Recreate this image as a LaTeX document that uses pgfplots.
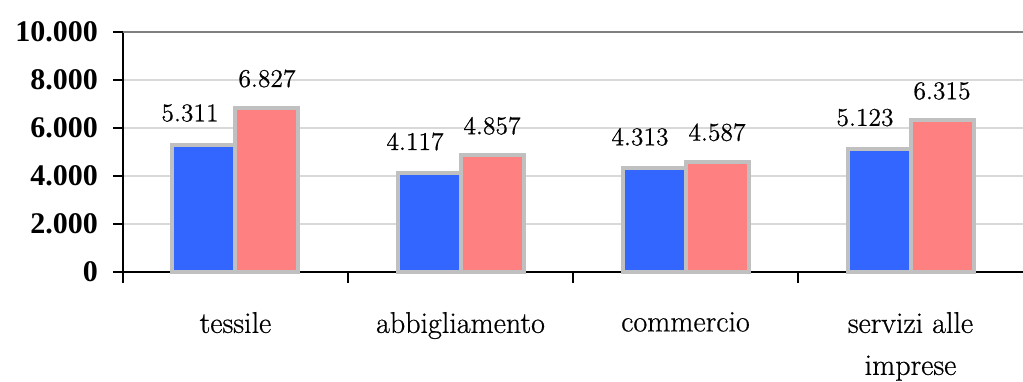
\documentclass[border=0pt]{standalone}
\usepackage{fontspec}
\usepackage{pgfplots}
\pgfplotsset{compat=1.18}
\newfontfamily\tickfont{Liberation Serif}
\newfontfamily\catfont{Latin Modern Roman}[FakeBold=0.6]
\definecolor{barblue}{HTML}{3366FF}
\definecolor{barpink}{HTML}{FF8080}
\definecolor{barborder}{HTML}{C0C0C0}
\definecolor{gridgray}{HTML}{D9D9D9}
\begin{document}
\begin{tikzpicture}
\begin{axis}[
  name=ax,
  scale only axis,
  width=450pt, height=120pt,
  xmin=-0.5, xmax=3.5,
  ymin=0, ymax=10000,
  ytick={0,2000,4000,6000,8000,10000},
  ymajorgrids,
  grid style={gridgray, line width=0.8pt},
  xtick={0,1,2,3},
  xticklabels={tessile,abbigliamento,commercio,{servizi alle\\imprese}},
  minor xtick={-0.5,0.5,1.5,2.5},
  major x tick style={draw=none},
  tick align=outside,
  major tick length=5pt,
  minor tick length=5.5pt,
  tick style={black, line width=0.6pt},
  axis x line*=bottom,
  axis y line*=left,
  axis line style={black, line width=0.7pt},
  x axis line style={-},
  y axis line style={-},
  scaled y ticks=false,
  /pgf/number format/.cd, 1000 sep={.}, fixed, assume math mode=true,
  /pgfplots/.cd,
  yticklabel style={font=\tickfont\bfseries\fontsize{15}{17}\selectfont, xshift=-4pt},
  xticklabel style={font=\catfont\fontsize{15}{21}\selectfont, align=center, yshift=-11.5pt},
  ybar,
  bar width=0.28,
  nodes near coords,
  every node near coord/.append style={font=\catfont\fontsize{12.8}{14}\selectfont, anchor=south},
  clip=false,
]
\addplot[fill=barblue, draw=barborder, line width=2pt, bar shift=-0.14,
  every node near coord/.append style={xshift=-7pt, yshift=7pt}]
  coordinates {(0,5311) (1,4117) (2,4313) (3,5123)};
\addplot[fill=barpink, draw=barborder, line width=2pt, bar shift=0.14,
  every node near coord/.append style={yshift=6pt}]
  coordinates {(0,6827) (1,4857) (2,4587) (3,6315)};
\draw[gray, line width=1pt] (rel axis cs:0,1) -- (rel axis cs:1,1);
\end{axis}
\pgfresetboundingbox
\path[use as bounding box] ([xshift=-61.5pt,yshift=-54.5pt]ax.south west) rectangle ([yshift=16pt]ax.north east);
\end{tikzpicture}
\end{document}
